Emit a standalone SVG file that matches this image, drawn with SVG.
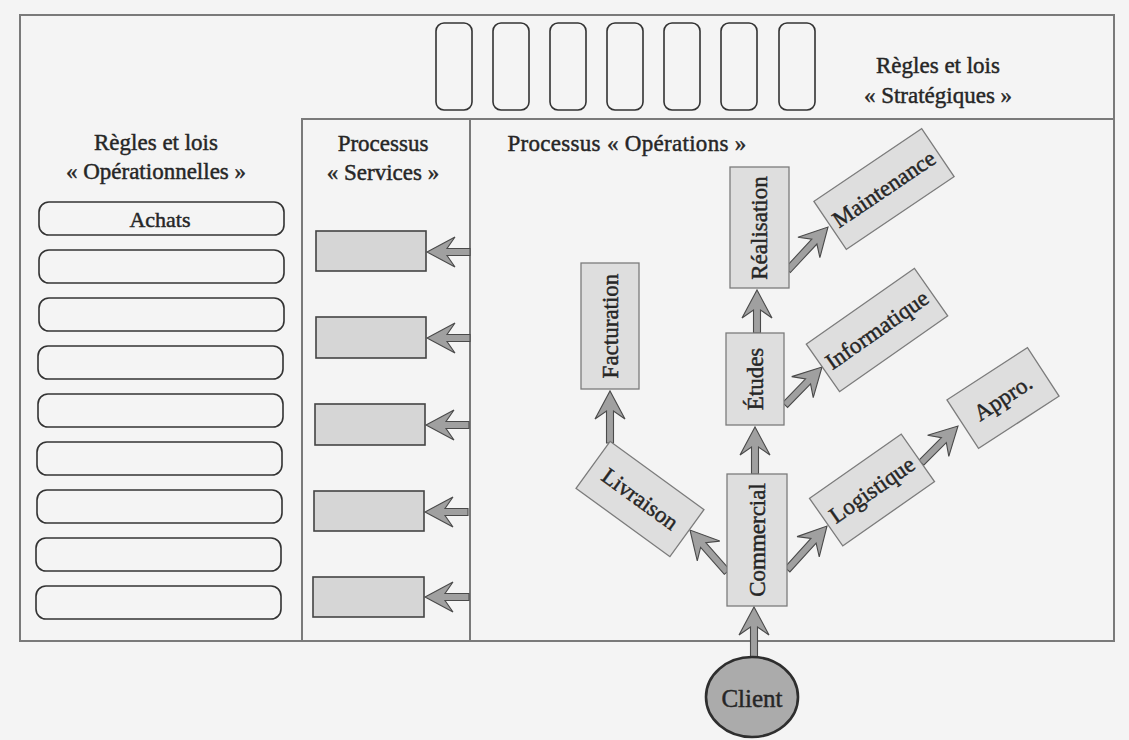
<svg xmlns="http://www.w3.org/2000/svg" width="1129" height="740" viewBox="0 0 1129 740">
<style>
.t{font-family:"Liberation Serif","Times New Roman",serif;font-size:23px;fill:#262626;stroke:#262626;stroke-width:0.45;text-anchor:middle;dominant-baseline:central}
.frame{fill:none;stroke:#7a7a7a;stroke-width:2}
.rr{fill:none;stroke:#333;stroke-width:1.6}
.svc{fill:#d6d6d6;stroke:#444;stroke-width:1.6}
.node{fill:#dedede;stroke:#7c7c7c;stroke-width:1.3}
.arr{fill:#a0a0a0;stroke:#4a4a4a;stroke-width:1.1;stroke-linejoin:miter}
</style>
<rect x="0" y="0" width="1129" height="740" fill="#f4f4f4"/>

<g id="frames">
<rect class="frame" x="20" y="15" width="1094" height="626"/>
<polyline class="frame" points="302,641 302,119 1114,119"/>
<line class="frame" x1="470" y1="119" x2="470" y2="641"/>
</g>

<g id="strategiques">
<rect class="rr" x="436" y="23" width="36" height="87" rx="8"/>
<rect class="rr" x="493" y="23" width="36" height="87" rx="8"/>
<rect class="rr" x="550" y="23" width="36" height="87" rx="8"/>
<rect class="rr" x="607" y="23" width="36" height="87" rx="8"/>
<rect class="rr" x="664" y="23" width="36" height="87" rx="8"/>
<rect class="rr" x="721" y="23" width="36" height="87" rx="8"/>
<rect class="rr" x="779" y="23" width="36" height="87" rx="8"/>
<text class="t" x="938" y="65">Règles et lois</text>
<text class="t" x="938" y="95">« Stratégiques »</text>
</g>

<g id="operationnelles">
<text class="t" x="156" y="142">Règles et lois</text>
<text class="t" x="156" y="171">« Opérationnelles »</text>
<rect class="rr" x="39" y="202" width="245" height="33" rx="10"/>
<text class="t" x="160" y="219" style="font-size:22px">Achats</text>
<rect class="rr" x="39" y="250" width="245" height="33" rx="10"/>
<rect class="rr" x="39" y="298" width="245" height="33" rx="10"/>
<rect class="rr" x="38" y="346" width="245" height="33" rx="10"/>
<rect class="rr" x="38" y="394" width="245" height="33" rx="10"/>
<rect class="rr" x="37" y="442" width="245" height="33" rx="10"/>
<rect class="rr" x="37" y="490" width="245" height="33" rx="10"/>
<rect class="rr" x="36" y="538" width="245" height="33" rx="10"/>
<rect class="rr" x="36" y="586" width="245" height="33" rx="10"/>
</g>

<g id="services">
<text class="t" x="383" y="143">Processus</text>
<text class="t" x="383" y="172">« Services »</text>
<rect class="svc" x="316" y="231" width="110" height="40"/>
<rect class="svc" x="316" y="317" width="110" height="41"/>
<rect class="svc" x="315" y="404" width="110" height="41"/>
<rect class="svc" x="314" y="491" width="110" height="40"/>
<rect class="svc" x="313" y="577" width="111" height="40"/>
</g>

<g id="operations-title">
<text class="t" x="627" y="143" style="letter-spacing:0.3px">Processus « Opérations »</text>
</g>

<g id="connectors">
<path class="arr" d="M-43,-3.5 L-20,-3.5 L-28,-15 L0,0 L-28,15 L-20,3.5 L-43,3.5 Z" transform="translate(427,252) rotate(180)"/>
<path class="arr" d="M-43,-3.5 L-20,-3.5 L-28,-15 L0,0 L-28,15 L-20,3.5 L-43,3.5 Z" transform="translate(427,338) rotate(180)"/>
<path class="arr" d="M-43,-3.5 L-20,-3.5 L-28,-15 L0,0 L-28,15 L-20,3.5 L-43,3.5 Z" transform="translate(426,425) rotate(180)"/>
<path class="arr" d="M-43,-3.5 L-20,-3.5 L-28,-15 L0,0 L-28,15 L-20,3.5 L-43,3.5 Z" transform="translate(425,512) rotate(180)"/>
<path class="arr" d="M-44,-3.5 L-20,-3.5 L-28,-15 L0,0 L-28,15 L-20,3.5 L-44,3.5 Z" transform="translate(425,597) rotate(180)"/>
<path class="arr" d="M-52,-3.5 L-20,-3.5 L-28,-15 L0,0 L-28,15 L-20,3.5 L-52,3.5 Z" transform="translate(754,607) rotate(-90)"/>
<path class="arr" d="M-47,-3.5 L-20,-3.5 L-28,-15 L0,0 L-28,15 L-20,3.5 L-47,3.5 Z" transform="translate(755,427) rotate(-90)"/>
<path class="arr" d="M-43,-3.5 L-20,-3.5 L-28,-15 L0,0 L-28,15 L-20,3.5 L-43,3.5 Z" transform="translate(757,290) rotate(-90)"/>
<path class="arr" d="M-52,-3.5 L-20,-3.5 L-28,-15 L0,0 L-28,15 L-20,3.5 L-52,3.5 Z" transform="translate(610,391) rotate(-90)"/>
<path class="arr" d="M-56,-3.5 L-20,-3.5 L-28,-15 L0,0 L-28,15 L-20,3.5 L-56,3.5 Z" transform="translate(690,530) rotate(-131.4)"/>
<path class="arr" d="M-59,-3.5 L-20,-3.5 L-28,-15 L0,0 L-28,15 L-20,3.5 L-59,3.5 Z" transform="translate(827,526) rotate(-47.7)"/>
<path class="arr" d="M-52,-3.5 L-20,-3.5 L-28,-15 L0,0 L-28,15 L-20,3.5 L-52,3.5 Z" transform="translate(958,426) rotate(-45)"/>
<path class="arr" d="M-53,-3.5 L-20,-3.5 L-28,-15 L0,0 L-28,15 L-20,3.5 L-53,3.5 Z" transform="translate(822,367) rotate(-45.8)"/>
<path class="arr" d="M-59,-3.5 L-20,-3.5 L-28,-15 L0,0 L-28,15 L-20,3.5 L-59,3.5 Z" transform="translate(828,227) rotate(-47)"/>
</g>

<g id="client">
<ellipse cx="752" cy="697" rx="46" ry="40" fill="#ababab" stroke="#2e2e2e" stroke-width="2.6"/>
<text class="t" x="752" y="698" style="font-size:25px">Client</text>
</g>

<g id="commercial">
<rect class="node" x="727" y="474" width="60" height="132"/>
<text class="t" transform="translate(757,540) rotate(-90)">Commercial</text>
</g>

<g id="etudes">
<rect class="node" x="726" y="333" width="58" height="92"/>
<text class="t" transform="translate(755,379) rotate(-90)">Études</text>
</g>

<g id="realisation">
<rect class="node" x="730" y="167" width="59" height="121"/>
<text class="t" transform="translate(759,228) rotate(-90)">Réalisation</text>
</g>

<g id="facturation">
<rect class="node" x="581" y="263" width="58" height="126"/>
<text class="t" transform="translate(610,326) rotate(-90)">Facturation</text>
</g>

<g id="livraison" transform="translate(640,499) rotate(36)">
<rect class="node" x="-58" y="-29" width="116" height="58"/>
<text class="t" x="0" y="0">Livraison</text>
</g>

<g id="logistique" transform="translate(872,490) rotate(-35)">
<rect class="node" x="-56" y="-29" width="112" height="58"/>
<text class="t" x="0" y="0">Logistique</text>
</g>

<g id="appro" transform="translate(1003,398) rotate(-33)">
<rect class="node" x="-48" y="-29" width="96" height="58"/>
<text class="t" x="0" y="0">Appro.</text>
</g>

<g id="informatique" transform="translate(877,330) rotate(-35)">
<rect class="node" x="-66" y="-29" width="132" height="58"/>
<text class="t" x="0" y="0">Informatique</text>
</g>

<g id="maintenance" transform="translate(884,189) rotate(-34)">
<rect class="node" x="-65" y="-29" width="130" height="58"/>
<text class="t" x="0" y="0">Maintenance</text>
</g>
</svg>
